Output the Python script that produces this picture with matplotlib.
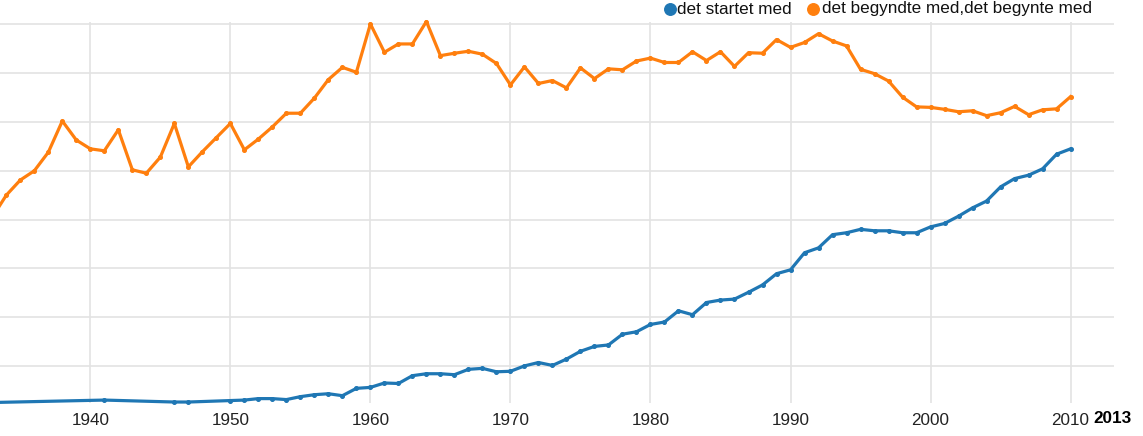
import matplotlib
matplotlib.use("Agg")
import matplotlib.pyplot as plt
from matplotlib.lines import Line2D

plt.rcParams["font.family"] = ["Liberation Sans", "DejaVu Sans"]

BLUE = "#1f77b4"
ORANGE = "#ff7f0e"
GRID = "#e3e3e3"

# "det startet med" (years with data only, gaps are joined)
startet_years = [1933, 1941, 1946, 1947] + list(range(1950, 2011))
startet_vals = [0.25, 0.30, 0.26, 0.26,
                0.29, 0.30, 0.33, 0.33, 0.31, 0.37, 0.41, 0.43, 0.39, 0.54,
                0.56, 0.65, 0.64, 0.80, 0.84, 0.84, 0.82, 0.93, 0.95, 0.88,
                0.89, 1.00, 1.07, 1.01, 1.14, 1.30, 1.40, 1.43, 1.65, 1.70,
                1.85, 1.90, 2.13, 2.05, 2.30, 2.35, 2.37, 2.51, 2.66, 2.89,
                2.97, 3.32, 3.42, 3.69, 3.73, 3.80, 3.77, 3.77, 3.73, 3.73,
                3.85, 3.92, 4.07, 4.24, 4.38, 4.67, 4.84, 4.91, 5.04, 5.34,
                5.45]

# "det begyndte med,det begynte med"
begyndte_years = list(range(1933, 2011))
begyndte_vals = [4.05, 4.50, 4.81, 5.00, 5.38, 6.02, 5.63,
                 5.45, 5.41, 5.84, 5.02, 4.95, 5.28, 5.97, 5.08, 5.39, 5.68,
                 5.97, 5.43, 5.65, 5.90, 6.18, 6.18, 6.49, 6.87, 7.12, 7.02,
                 8.01, 7.43, 7.60, 7.60, 8.06, 7.36, 7.41, 7.45, 7.39, 7.20,
                 6.76, 7.13, 6.79, 6.85, 6.70, 7.11, 6.89, 7.09, 7.07, 7.25,
                 7.31, 7.22, 7.22, 7.44, 7.26, 7.44, 7.14, 7.42, 7.41, 7.69,
                 7.53, 7.63, 7.81, 7.66, 7.56, 7.08, 6.99, 6.84, 6.51, 6.31,
                 6.30, 6.26, 6.21, 6.23, 6.13, 6.19, 6.32, 6.15, 6.25, 6.27,
                 6.52]

tick_years = [1940, 1950, 1960, 1970, 1980, 1990, 2000, 2010]
grid_levels = [1, 2, 3, 4, 5, 6, 7, 8]
labels = ["det startet med", "det begyndte med,det begynte med"]

W, H = 1143, 436
fig = plt.figure(figsize=(W / 100, H / 100), dpi=100)
# axes box in pixels: x 0..1114, y 22..403
ax = fig.add_axes([0, 1 - 403 / H, 1114 / W, (403 - 22) / H])
ax.set_xlim(1933.55, 2013.1)
ax.set_ylim(0.24, 8.05)

for lv in grid_levels:
    ax.axhline(lv, color=GRID, lw=1.2, zorder=0)
for yr in tick_years:
    ax.axvline(yr, color=GRID, lw=1.2, zorder=0)

for yrs, vals, col in ((startet_years, startet_vals, BLUE),
                       (begyndte_years, begyndte_vals, ORANGE)):
    ax.plot(yrs, vals, color=col, lw=2.3, marker="o", ms=2.6,
            solid_joinstyle="round", clip_on=False, zorder=3)

for s in ax.spines.values():
    s.set_visible(False)
ax.set_yticks([])
ax.set_xticks(tick_years)
ax.set_xticklabels([str(y) for y in tick_years], fontsize=12.3, color="#222222")
ax.tick_params(axis="x", length=0, pad=7)

# bold end-year label at the right end of the axis
fig.text(1113 / W, 1 - 418 / H, "2013", ha="center", va="center",
         fontsize=12.3, fontweight="bold", color="#000000")

# legend along the top edge
ly = 1 - 9 / H
for xdot, xtxt, col, lab in ((670, 677, BLUE, labels[0]), (813, 822, ORANGE, labels[1])):
    fig.add_artist(Line2D([xdot / W], [ly], marker="o", ms=8.3, color=col, ls=""))
    fig.text(xtxt / W, ly, lab, ha="left", va="center", fontsize=12.3, color="#111111")

fig.savefig("out.png", dpi=100)
